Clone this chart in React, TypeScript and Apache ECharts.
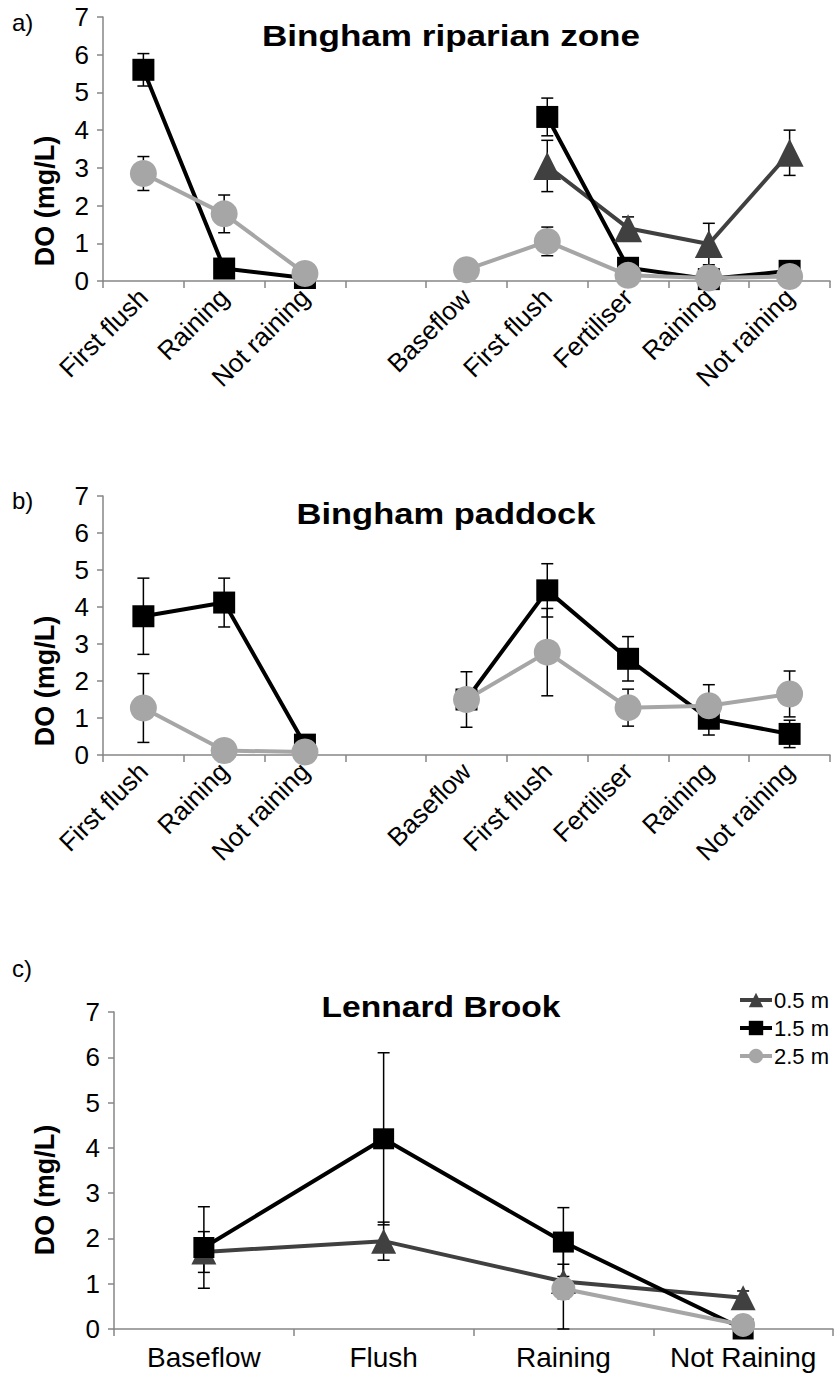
import React, { useEffect, useRef } from "react";
import * as echarts from "echarts";

const catsAB = ["First flush", "Raining", "Not raining", "", "Baseflow", "First flush", "Fertiliser", "Raining", "Not raining"];
const catsC = ["Baseflow", "Flush", "Raining", "Not Raining"];
const seriesNames = ["0.5 m", "1.5 m", "2.5 m"];

// Panel a) Bingham riparian zone
const a05 = [null, null, null, null, null, 3.05, 1.4, 0.98, 3.4];
const a05Err = [null, null, null, null, null, 0.68, 0.3, 0.55, 0.6];
const a15 = [5.6, 0.33, 0.08, null, null, 4.35, 0.35, 0.05, 0.27];
const a15Err = [0.43, 0.08, 0.03, null, null, 0.5, 0.1, 0.05, 0.05];
const a25 = [2.85, 1.78, 0.2, null, 0.3, 1.05, 0.15, 0.08, 0.12];
const a25Err = [0.45, 0.5, 0.05, null, 0.05, 0.38, 0.05, 0.03, 0.03];

// Panel b) Bingham paddock
const b15 = [3.75, 4.12, 0.28, null, 1.5, 4.45, 2.6, 0.98, 0.57];
const b15Err = [1.03, 0.66, 0.05, null, 0.1, 0.72, 0.6, 0.44, 0.37];
const b25 = [1.27, 0.12, 0.08, null, 1.5, 2.78, 1.28, 1.33, 1.65];
const b25Err = [0.93, 0.03, 0.02, null, 0.75, 1.18, 0.5, 0.57, 0.62];

// Panel c) Lennard Brook
const c05 = [1.7, 1.94, 1.05, 0.69];
const c05Err = [0.45, 0.42, 0.38, 0.15];
const c15 = [1.8, 4.2, 1.92, 0.0];
const c15Err = [0.9, 1.9, 0.76, 0.05];
const c25 = [null, null, 0.89, 0.09];
const c25Err = [null, null, 0.89, 0.03];

const COLORS = ["#404040", "#000000", "#a6a6a6"];
const SYMBOLS = ["triangle", "rect", "circle"];
const FONT = "'Liberation Sans', Arial, Helvetica, sans-serif";
const AXIS_COLOR = "#868686";

function errData(vals: (number | null)[], errs: (number | null)[]) {
  const out: number[][] = [];
  vals.forEach((v, i) => {
    const e = errs[i];
    if (v !== null && e !== null && e !== undefined) out.push([i, v, e]);
  });
  return out;
}

function renderErr(params: any, api: any) {
  const x = api.value(0);
  const v = api.value(1);
  const e = api.value(2);
  const top = api.coord([x, v + e]);
  const bot = api.coord([x, Math.max(0, v - e)]);
  const hw = 6;
  const st = { stroke: "#000", lineWidth: 1.5 };
  return {
    type: "group",
    children: [
      { type: "line", shape: { x1: top[0], y1: top[1], x2: bot[0], y2: bot[1] }, style: st },
      { type: "line", shape: { x1: top[0] - hw, y1: top[1], x2: top[0] + hw, y2: top[1] }, style: st },
      { type: "line", shape: { x1: bot[0] - hw, y1: bot[1], x2: bot[0] + hw, y2: bot[1] }, style: st },
    ],
  };
}

function lineSeries(idx: number, depth: number, data: (number | null)[], big: boolean) {
  const sizes = big ? [28, 22, 27] : [25, 21, 24];
  return {
    type: "line",
    name: seriesNames[depth],
    xAxisIndex: idx,
    yAxisIndex: idx,
    data,
    connectNulls: false,
    symbol: SYMBOLS[depth],
    symbolSize: sizes[depth],
    showSymbol: true,
    lineStyle: { color: COLORS[depth], width: 4 },
    itemStyle: { color: COLORS[depth] },
    z: 3,
  };
}

function errSeries(idx: number, vals: (number | null)[], errs: (number | null)[]) {
  return {
    type: "custom",
    xAxisIndex: idx,
    yAxisIndex: idx,
    data: errData(vals, errs),
    renderItem: renderErr,
    encode: { x: 0, y: 1 },
    z: 2,
    silent: true,
  };
}

function yAxisCfg(idx: number) {
  return {
    type: "value",
    gridIndex: idx,
    min: 0,
    max: 7,
    interval: 1,
    axisLine: { show: true, lineStyle: { color: AXIS_COLOR, width: 1.5 } },
    axisTick: { show: true, length: 6, lineStyle: { color: AXIS_COLOR, width: 1.5 } },
    splitLine: { show: false },
    axisLabel: { color: "#000", fontSize: 26, fontFamily: FONT, margin: 14 },
  };
}

function titleText(text: string, x: number, y: number, sx: number) {
  return {
    type: "text",
    x,
    y,
    scaleX: sx,
    style: { text, fontSize: 30, fontWeight: "bold", fontFamily: FONT, fill: "#000", align: "center", verticalAlign: "middle" },
  };
}

function yName(y: number) {
  return {
    type: "text",
    x: 45,
    y,
    rotation: Math.PI / 2,
    style: { text: "DO (mg/L)", fontSize: 27, fontWeight: "bold", fontFamily: FONT, fill: "#000", align: "center", verticalAlign: "middle" },
  };
}

export default function App() {
  const ref = useRef<HTMLDivElement>(null);
  useEffect(() => {
    if (!ref.current) return;
    const chart = echarts.init(ref.current, null, { renderer: "svg" });
    const option: any = {
      animation: false,
      backgroundColor: "#ffffff",
      textStyle: { fontFamily: FONT },
      grid: [
        { left: 103, top: 17, width: 727, height: 264 },
        { left: 103, top: 496, width: 727, height: 259 },
        { left: 114, top: 1012, width: 719, height: 317 },
      ],
      xAxis: [0, 1].map((i) => ({
        type: "category",
        gridIndex: i,
        data: catsAB,
        boundaryGap: true,
        axisLine: { lineStyle: { color: AXIS_COLOR, width: 1.5 } },
        axisTick: { show: true, length: 7, interval: 0, lineStyle: { color: AXIS_COLOR, width: 1.5 } },
        axisLabel: { interval: 0, rotate: 45, color: "#000", fontSize: 26, fontFamily: FONT, margin: 12 },
      })).concat([
        {
          type: "category",
          gridIndex: 2,
          data: catsC,
          boundaryGap: true,
          axisLine: { lineStyle: { color: AXIS_COLOR, width: 1.5 } },
          axisTick: { show: true, length: 7, interval: 0, lineStyle: { color: AXIS_COLOR, width: 1.5 } },
          axisLabel: { interval: 0, rotate: 0, color: "#000", fontSize: 28, fontFamily: FONT, margin: 14 },
        } as any,
      ]),
      yAxis: [yAxisCfg(0), yAxisCfg(1), yAxisCfg(2)],
      legend: {
        data: seriesNames,
        orient: "vertical",
        left: 738,
        top: 989,
        itemWidth: 32,
        itemHeight: 18,
        itemGap: 6,
        padding: 0,
        lineStyle: { width: 4 },
        textStyle: { fontSize: 22, color: "#000", fontFamily: FONT, padding: [0, 0, 0, -3] },
        selectedMode: false,
      },
      graphic: [
        { type: "text", left: 12, top: 10, style: { text: "a)", fontSize: 24, fontFamily: FONT, fill: "#000" } },
        { type: "text", left: 12, top: 488, style: { text: "b)", fontSize: 24, fontFamily: FONT, fill: "#000" } },
        { type: "text", left: 12, top: 956, style: { text: "c)", fontSize: 24, fontFamily: FONT, fill: "#000" } },
        titleText("Bingham riparian zone", 451, 35, 1.17),
        titleText("Bingham paddock", 446, 514, 1.15),
        titleText("Lennard Brook", 441, 1007, 1.12),
        yName(201),
        yName(681),
        yName(1190),
      ],
      series: [
        errSeries(0, a05, a05Err),
        errSeries(0, a15, a15Err),
        errSeries(0, a25, a25Err),
        lineSeries(0, 0, a05, true),
        lineSeries(0, 1, a15, true),
        lineSeries(0, 2, a25, true),
        errSeries(1, b15, b15Err),
        errSeries(1, b25, b25Err),
        lineSeries(1, 1, b15, true),
        lineSeries(1, 2, b25, true),
        errSeries(2, c05, c05Err),
        errSeries(2, c15, c15Err),
        errSeries(2, c25, c25Err),
        lineSeries(2, 0, c05, false),
        lineSeries(2, 1, c15, false),
        lineSeries(2, 2, c25, false),
      ],
    };
    chart.setOption(option);
    return () => chart.dispose();
  }, []);
  return (
    <div
      ref={ref}
      style={{ position: "absolute", left: 0, top: 0, width: 834, height: 1379, background: "#fff" }}
    />
  );
}
